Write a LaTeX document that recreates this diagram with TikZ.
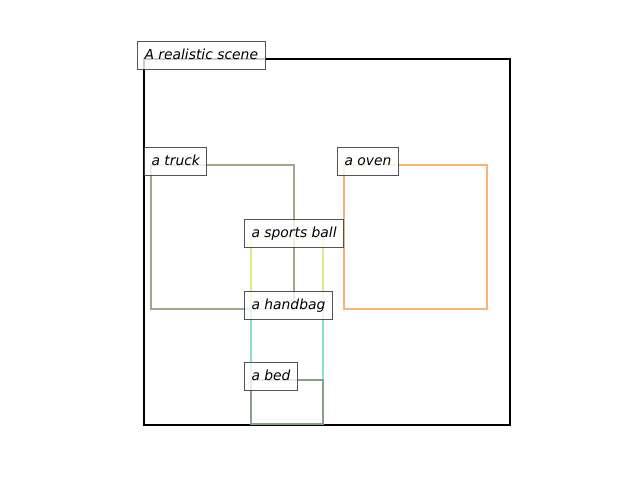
\documentclass[tikz,border=0pt]{standalone}
\usepackage{fontspec}
\setmainfont{DejaVu Sans}
\definecolor{ctruck}{RGB}{160,168,136}
\definecolor{coven}{RGB}{248,180,120}
\definecolor{cball}{RGB}{216,236,136}
\definecolor{cbag}{RGB}{140,224,200}
\definecolor{cbed}{RGB}{136,160,136}
\tikzset{
  objbox/.style={line width=2pt},
  lbl/.style={anchor=base west, xshift=-5.25pt, inner xsep=5.25pt, inner ysep=5.25pt,
    text height=8pt, text depth=2.5pt, fill=white, fill opacity=0.8, text opacity=1,
    draw=black!75, draw opacity=0.9, line width=0.75pt,
    font=\fontsize{10.4}{12.5}\selectfont\itshape}
}
\begin{document}
\begin{tikzpicture}[x=0.75pt,y=-0.75pt]
\useasboundingbox (0,0) rectangle (640,480);
\draw[line width=1.7pt,black] (144,59) rectangle (510,425);
\draw[objbox,ctruck] (151,165) rectangle (294,309);
\draw[objbox,coven] (344,165) rectangle (487,309);
\draw[objbox,cball] (251,237) rectangle (323,309);
\draw[objbox,cbag] (251,309) rectangle (323,424);
\draw[objbox,cbed] (251,380) rectangle (323,424);
\coordinate (cscene) at (144,59);
\coordinate (ctr) at (151,165);
\coordinate (cov) at (344,165);
\coordinate (cba) at (251,237);
\coordinate (cbg) at (251,309);
\coordinate (cbd) at (251,380);
\node[lbl] (lscene) at (cscene) {A realistic scene};
\node[lbl] (ltruck) at (ctr) {a truck};
\node[lbl] (loven) at (cov) {a oven};
\node[lbl] (lball) at (cba) {a sports ball};
\node[lbl] (lbag) at (cbg) {a handbag};
\node[lbl] (lbed) at (cbd) {a bed};
\end{tikzpicture}
\end{document}
